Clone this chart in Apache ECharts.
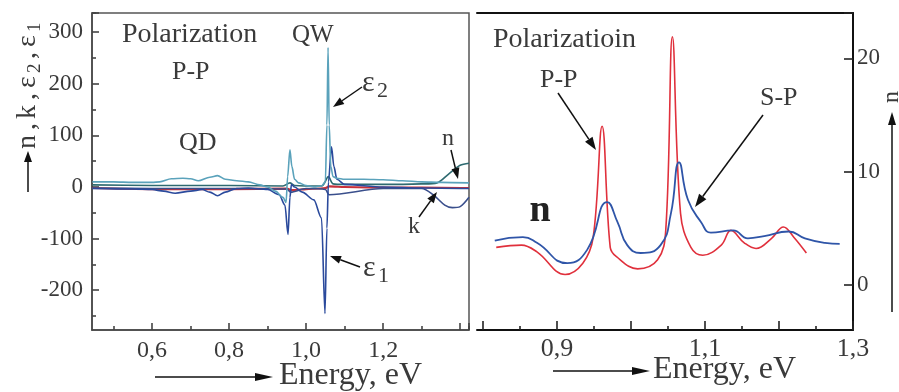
<!DOCTYPE html>
<html><head><meta charset="utf-8">
<script src="https://cdn.jsdelivr.net/npm/echarts@6/dist/echarts.min.js"></script>
<style>html,body{margin:0;padding:0;background:#fff}#c{width:899px;height:392px}</style>
</head><body><div id="c"></div>
<script>
// ---------- Left panel (QD / QW, P-P polarization) ----------
const eps2X = [0.445,0.5,0.55,0.6,0.62,0.65,0.68,0.7,0.72,0.75,0.77,0.79,0.82,0.85,0.88,0.9,0.92,0.94,0.948,0.952,0.958,0.963,0.97,0.98,1.0,1.02,1.04,1.05,1.054,1.057,1.06,1.064,1.07,1.08,1.1,1.15,1.2,1.25,1.3,1.35,1.423];
const eps2Y = [10,10,9,9,10,16,17,16,12,19,22,15,12,10,4,0,-8,-20,-30,20,72,40,15,8,3,0,2,10,120,270,120,40,20,17,15,15,14,12,10,9,8];
const eps1X = [0.445,0.55,0.6,0.63,0.66,0.7,0.73,0.75,0.77,0.79,0.82,0.85,0.9,0.93,0.945,0.953,0.958,0.962,0.97,0.99,1.02,1.04,1.049,1.054,1.058,1.066,1.072,1.08,1.1,1.2,1.3,1.423];
const eps1Y = [-3,-4,-5,-8,-12,-8,-5,-10,-17,-10,-3,-2,-5,-15,-35,-92,-20,5,0,-10,-25,-60,-245,-80,10,78,40,15,5,0,-2,-3];
const nLX = [0.445,0.6,0.8,0.94,0.958,0.97,1.04,1.058,1.07,1.1,1.2,1.3,1.34,1.37,1.4,1.423];
const nLY = [4,3,3,2,8,3,2,20,6,5,5,6,8,25,42,46];
const kLX = [0.445,0.6,0.8,0.95,0.96,1.0,1.05,1.06,1.2,1.3,1.33,1.36,1.38,1.4,1.423];
const kLY = [-2,-3,-3,-4,-10,-3,-5,-15,-3,-3,-15,-35,-40,-38,-20];
const redLX = [0.445,0.6,0.8,0.95,0.96,1.0,1.05,1.06,1.1,1.2,1.3,1.423];
const redLY = [-2,-4,-4,-3,-6,-4,-2,1,0,-1,-1,-2];
const leftXLabels = [0.6,0.8,1.0,1.2];
const leftYLabels = [-200,-100,0,100,200,300];

// ---------- Right panel (n, P-P vs S-P) ----------
const ppX = [0.818,0.852,0.873,0.911,0.935,0.949,0.961,0.972,0.98,1.009,1.036,1.047,1.056,1.067,1.081,1.097,1.122,1.135,1.153,1.169,1.19,1.206,1.22,1.237];
const ppY = [3.3,3.5,2.9,0.9,1.9,4.2,14.0,3.3,2.5,1.4,2.2,4.8,21.9,6.3,3.3,2.6,3.5,4.8,3.7,3.2,4.1,5.1,4.2,2.8];
const spX = [0.816,0.854,0.873,0.914,0.941,0.968,0.982,0.995,1.013,1.04,1.054,1.065,1.077,1.095,1.108,1.138,1.158,1.18,1.213,1.235,1.262,1.282];
const spY = [3.9,4.2,3.7,1.9,3.1,7.3,5.5,3.5,2.8,3.5,6.3,10.8,7.5,5.5,4.6,4.8,4.1,4.3,4.7,4.1,3.7,3.6];
const rightXLabels = [0.9,1.1,1.3];
const rightYLabels = [0,10,20];

// axis extents
const LX = [0.444, 1.423], LY = [-277, 337];
const RX = [0.792, 1.3], RY = [-4, 24];

const FONT = 'Liberation Serif, Times New Roman, serif';
const TXT = '#3a3a3a';
const pairs = (xs, ys) => xs.map((x, i) => [x, ys[i]]);
const comma = v => v.toFixed(1).replace('.', ',');

const LG = {left: 92, top: 13, width: 377, height: 317};
const RG = {left: 477, top: 13, width: 376, height: 317};

const grids = [], xAxes = [], yAxes = [];
const hidden = (gi, ext) => ({type: 'value', gridIndex: gi, min: ext[0], max: ext[1], show: false,
  axisLine: {onZero: false}, splitLine: {show: false}});

function mainGrid(rect, extra) { grids.push(Object.assign({}, rect, extra || {})); return grids.length - 1; }

// tick overlay: a grid whose axis starts exactly at the first tick, so ticks are counted from min
function tickOverlay(G, xr, yr, dim, tmin, interval, len, color, pos) {
  const gi = grids.length;
  const tick = {type: 'value', gridIndex: gi, interval, position: pos, splitLine: {show: false},
    axisLine: {show: false, onZero: false}, axisLabel: {show: false},
    axisTick: {show: true, inside: true, length: len, lineStyle: {color, width: 1.6}}};
  if (dim === 'x') {
    const sx = G.width / (xr[1] - xr[0]);
    const l = G.left + (tmin - xr[0]) * sx;
    grids.push({left: l, top: G.top, width: G.left + G.width - l, height: G.height});
    xAxes.push(Object.assign(tick, {min: tmin, max: xr[1]}));
    yAxes.push(hidden(gi, yr));
  } else {
    const sy = G.height / (yr[1] - yr[0]);
    grids.push({left: G.left, top: G.top, width: G.width, height: (yr[1] - tmin) * sy});
    yAxes.push(Object.assign(tick, {min: tmin, max: yr[1]}));
    xAxes.push(hidden(gi, xr));
  }
}

// ----- left main -----
const gL = mainGrid(LG, {show: true, borderColor: '#555', borderWidth: 1.5, backgroundColor: 'transparent'});
xAxes.push({type: 'value', gridIndex: gL, min: LX[0], max: LX[1], position: 'bottom', splitLine: {show: false},
  axisLine: {show: true, onZero: false, lineStyle: {color: '#444', width: 1.5}},
  axisTick: {show: false},
  axisLabel: {show: true, customValues: leftXLabels, formatter: comma, margin: 9,
    fontFamily: FONT, fontSize: 24, color: TXT}});
const xL = xAxes.length - 1;
yAxes.push({type: 'value', gridIndex: gL, min: LY[0], max: LY[1], position: 'left', splitLine: {show: false},
  axisLine: {show: true, onZero: false, lineStyle: {color: '#444', width: 1.5}},
  axisTick: {show: false},
  axisLabel: {show: true, customValues: leftYLabels, margin: 9,
    fontFamily: FONT, fontSize: 23, color: TXT}});
const yL = yAxes.length - 1;
// ----- right main -----
const gR = mainGrid(RG);
xAxes.push({type: 'value', gridIndex: gR, min: RX[0], max: RX[1], position: 'bottom', splitLine: {show: false},
  axisLine: {show: true, onZero: false, lineStyle: {color: '#111', width: 2}},
  axisTick: {show: false},
  axisLabel: {show: true, customValues: rightXLabels, formatter: comma, margin: 6,
    fontFamily: FONT, fontSize: 26, color: TXT}});
const xR = xAxes.length - 1;
xAxes.push({type: 'value', gridIndex: gR, min: RX[0], max: RX[1], position: 'top', splitLine: {show: false},
  axisLine: {show: true, onZero: false, lineStyle: {color: '#111', width: 2}},
  axisTick: {show: false}, axisLabel: {show: false}});
yAxes.push({type: 'value', gridIndex: gR, min: RY[0], max: RY[1], position: 'right', splitLine: {show: false},
  axisLine: {show: true, onZero: false, lineStyle: {color: '#111', width: 2}},
  axisTick: {show: false},
  axisLabel: {show: true, customValues: rightYLabels, margin: 4,
    fontFamily: FONT, fontSize: 23, color: TXT}});
const yR = yAxes.length - 1;

// ----- tick overlays -----
tickOverlay(LG, LX, LY, 'x', 0.6, 0.2, 7, '#444', 'bottom');   // major
tickOverlay(LG, LX, LY, 'x', 0.5, 0.2, 4, '#444', 'bottom');   // minor
tickOverlay(LG, LX, LY, 'y', -200, 100, 7, '#444', 'left');    // major
tickOverlay(LG, LX, LY, 'y', -250, 100, 4, '#444', 'left');    // minor
tickOverlay(RG, RX, RY, 'x', 0.8, 0.1, 9, '#222', 'bottom');   // major
tickOverlay(RG, RX, RY, 'x', 0.85, 0.1, 4, '#222', 'bottom');  // minor
tickOverlay(RG, RX, RY, 'y', 0, 10, 9, '#222', 'right');       // major

function txt(x, y, s, size, extra) {
  return Object.assign({type: 'text', x, y, z: 100, silent: true,
    style: Object.assign({text: s, fontSize: size, fontFamily: FONT, fill: TXT,
      align: 'left', verticalAlign: 'middle'}, extra || {})});
}
function arrow(x1, y1, x2, y2, hl, hw, color, lw) {
  const dx = x2 - x1, dy = y2 - y1, L = Math.hypot(dx, dy);
  const ux = dx / L, uy = dy / L, px = -uy, py = ux;
  const bx = x2 - ux * hl, by = y2 - uy * hl;
  return [
    {type: 'line', z: 100, silent: true, shape: {x1, y1, x2: bx, y2: by},
      style: {stroke: color || '#111', lineWidth: lw || 1.5}},
    {type: 'polygon', z: 100, silent: true,
      shape: {points: [[x2, y2], [bx + px * hw / 2, by + py * hw / 2], [bx - px * hw / 2, by - py * hw / 2]]},
      style: {fill: color || '#111'}}
  ];
}

const line = (name, xs, ys, xi, yi, color, width, smooth, mono) => ({
  name, type: 'line', xAxisIndex: xi, yAxisIndex: yi, data: pairs(xs, ys),
  showSymbol: false, smooth, smoothMonotone: mono, lineStyle: {color, width}});

const option = {
  animation: false,
  backgroundColor: '#fff',
  grid: grids,
  xAxis: xAxes,
  yAxis: yAxes,
  series: [
    line('red', redLX, redLY, xL, yL, '#c8303a', 2.2, 0.3),
    line('k', kLX, kLY, xL, yL, '#3a4f8c', 1.6, 0.3),
    line('n', nLX, nLY, xL, yL, '#2e6a70', 1.6, 0.3),
    line('eps1', eps1X, eps1Y, xL, yL, '#2b4a9c', 1.6, 0.3, 'x'),
    line('eps2', eps2X, eps2Y, xL, yL, '#5aa2bb', 1.6, 0.3, 'x'),
    line('P-P', ppX, ppY, xR, yR, '#e0303c', 1.6, 0.4),
    line('S-P', spX, spY, xR, yR, '#2f55a8', 1.8, 0.5)
  ],
  graphic: [
    // left panel annotations
    txt(122, 35, 'Polarization', 28),
    txt(292, 35, 'QW', 25),
    txt(172, 72, 'P-P', 26),
    txt(179, 143, 'QD', 26),
    txt(362, 83, 'ε', 30),
    txt(377, 91, '2', 22),
    ...arrow(362, 87, 333, 107, 11, 8),
    txt(363, 268, 'ε', 30),
    txt(378, 276, '1', 22),
    ...arrow(360, 267, 330, 256, 11, 8),
    txt(442, 139, 'n', 24),
    ...arrow(451, 150, 458, 179, 11, 8),
    txt(408, 227, 'k', 24),
    ...arrow(419, 217, 437, 192, 11, 8),
    // left y-axis name (rotated)
    {type: 'group', x: 28, y: 149, rotation: Math.PI / 2, silent: true, children: [
      txt(0, 0, 'n', 28), txt(19, 0, ',', 28), txt(30, 0, 'k', 28), txt(49, 0, ',', 28),
      txt(61, 0, 'ε', 28), txt(76, 7, '2', 19), txt(90, 0, ',', 28),
      txt(102, 0, 'ε', 28), txt(117, 7, '1', 19)
    ]},
    ...arrow(28, 192, 28, 151, 11, 8),
    // left x-axis name
    ...arrow(155, 377, 273, 377, 18, 8),
    txt(279, 376, 'Energy, eV', 32),
    // right panel annotations
    txt(493, 40, 'Polarizatioin', 28),
    txt(540, 80, 'P-P', 26),
    ...arrow(558, 93, 596, 150, 13, 9),
    txt(760, 98, 'S-P', 26),
    ...arrow(763, 115, 695, 207, 13, 9),
    txt(540, 211, 'n', 38, {fontWeight: 'bold', align: 'center', fill: '#222'}),
    // right y-axis name
    {type: 'group', x: 892, y: 97, rotation: Math.PI / 2, silent: true, children: [
      txt(0, 0, 'n', 24, {align: 'center'})
    ]},
    ...arrow(892, 312, 892, 112, 13, 8),
    // right x-axis name
    ...arrow(553, 371, 650, 371, 18, 8),
    txt(653, 370, 'Energy, eV', 32)
  ]
};

const chart = echarts.init(document.getElementById('c'), null, {renderer: 'canvas'});
chart.setOption(option);
</script>
</body></html>
